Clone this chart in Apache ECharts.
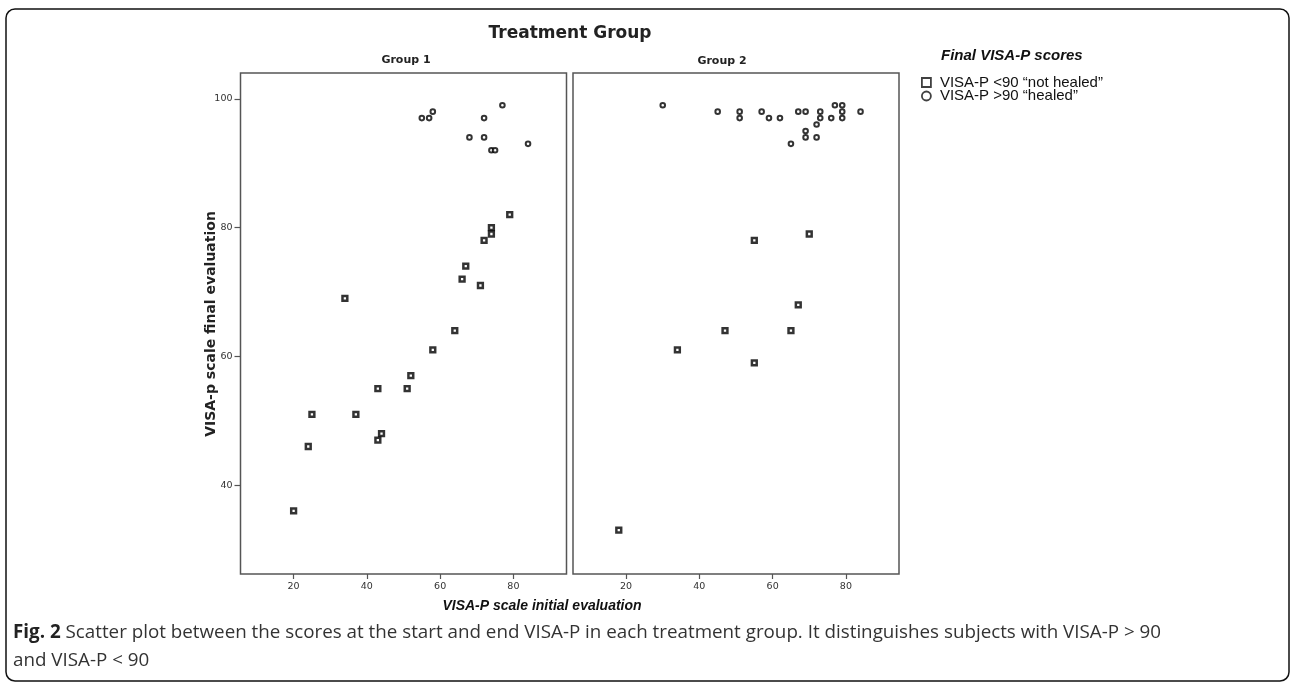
<!DOCTYPE html>
<html>
<head>
<meta charset="utf-8">
<script src="https://cdn.jsdelivr.net/npm/echarts@6/dist/echarts.min.js"></script>
<style>
  html, body { margin: 0; padding: 0; background: #fff; }
  #chart { width: 1292px; height: 683px; }
</style>
</head>
<body>
<div id="chart"></div>
<script>
// ---- Data (initial VISA-P, final VISA-P) ----
const group1NotHealed = [
  [79, 82], [74, 80], [74, 79], [72, 78], [67, 74], [66, 72], [71, 71],
  [34, 69], [64, 64], [58, 61], [52, 57], [43, 55], [51, 55], [25, 51],
  [37, 51], [44, 48], [43, 47], [24, 46], [20, 36]
];
const group1Healed = [
  [55, 97], [57, 97], [58, 98], [77, 99], [72, 97], [68, 94], [72, 94],
  [74, 92], [75, 92], [84, 93]
];
const group2NotHealed = [
  [55, 78], [70, 79], [67, 68], [47, 64], [65, 64], [34, 61], [55, 59], [18, 33]
];
const group2Healed = [
  [30, 99], [45, 98], [51, 98], [51, 97], [57, 98], [59, 97], [62, 97],
  [67, 98], [69, 98], [73, 98], [73, 97], [76, 97], [77, 99], [79, 99],
  [79, 98], [79, 97], [84, 98], [72, 96], [69, 95], [69, 94], [72, 94], [65, 93]
];
const xTickValues = [20, 40, 60, 80];
const yTickValues = [40, 60, 80, 100];
const groupLabels = ['Group 1', 'Group 2'];
const seriesNames = ['VISA-P <90 \u201Cnot healed\u201D', 'VISA-P >90 \u201Chealed\u201D'];

const chart = echarts.init(document.getElementById('chart'), null, { renderer: 'canvas' });

const tickFont = { fontFamily: 'DejaVu Sans', fontSize: 9.5, color: '#333' };
function xAxisFor(gi) {
  return {
    type: 'value', gridIndex: gi, min: 5.5, max: 94.5,
    axisLine: { show: false },
    splitLine: { show: false },
    axisTick: { show: true, length: 5, inside: false, customValues: xTickValues, lineStyle: { color: '#555', width: 1.2 } },
    axisLabel: Object.assign({ margin: 8, customValues: xTickValues }, tickFont)
  };
}
function yAxisFor(gi, showTicks) {
  return {
    type: 'value', gridIndex: gi, min: 26.2, max: 104,
    axisLine: { show: false },
    splitLine: { show: false },
    axisTick: { show: showTicks, length: 6, customValues: yTickValues, lineStyle: { color: '#555', width: 1.2 } },
    axisLabel: Object.assign({ show: showTicks, margin: 8, customValues: yTickValues }, tickFont)
  };
}
const squareStyle = { color: '#fff', borderColor: '#000', borderWidth: 2.5 };
const circleStyle = { color: '#fff', borderColor: '#000', borderWidth: 2 };
function sc(name, data, gi, symbol) {
  return {
    type: 'scatter', name: name, xAxisIndex: gi, yAxisIndex: gi, data: data,
    symbol: symbol, symbolSize: symbol === 'rect' ? 4.8 : 4.6,
    itemStyle: symbol === 'rect' ? squareStyle : circleStyle,
    emphasis: { disabled: true }, silent: true
  };
}

const legendText = { fontFamily: 'Liberation Sans', fontSize: 15, color: '#111', padding: [0, 0, 0, 4] };
const option = {
  animation: false,
  backgroundColor: '#fff',
  grid: [
    { left: 240.5, top: 73, width: 326, height: 501, show: true, borderColor: '#555', borderWidth: 1.5, backgroundColor: 'transparent' },
    { left: 573, top: 73, width: 326, height: 501, show: true, borderColor: '#555', borderWidth: 1.5, backgroundColor: 'transparent' }
  ],
  xAxis: [xAxisFor(0), xAxisFor(1)],
  yAxis: [yAxisFor(0, true), yAxisFor(1, false)],
  legend: [
    {
      data: [{ name: seriesNames[0], icon: 'rect', itemStyle: { color: '#fff', borderColor: '#111', borderWidth: 1.8 } }],
      left: 921, top: 75, padding: 0, itemWidth: 9, itemHeight: 9, selectedMode: false,
      textStyle: legendText
    },
    {
      data: [{ name: seriesNames[1], icon: 'circle', itemStyle: { color: '#fff', borderColor: '#111', borderWidth: 1.8 } }],
      left: 921, top: 88.5, padding: 0, itemWidth: 9, itemHeight: 9, selectedMode: false,
      textStyle: legendText
    }
  ],
  series: [
    sc(seriesNames[0], group1NotHealed, 0, 'rect'),
    sc(seriesNames[1], group1Healed, 0, 'circle'),
    sc(seriesNames[0], group2NotHealed, 1, 'rect'),
    sc(seriesNames[1], group2Healed, 1, 'circle')
  ],
  graphic: [
    { type: 'rect', shape: { x: 6, y: 9, width: 1283, height: 672, r: 9 }, style: { fill: 'none', stroke: '#111', lineWidth: 1.5 }, silent: true },
    { type: 'text', x: 570, y: 34, style: { text: 'Treatment Group', fontFamily: 'DejaVu Sans', fontWeight: 'bold', fontSize: 17, fill: '#222', align: 'center', verticalAlign: 'middle' } },
    { type: 'text', x: 406, y: 60, style: { text: groupLabels[0], fontFamily: 'DejaVu Sans', fontWeight: 'bold', fontSize: 11, fill: '#222', align: 'center', verticalAlign: 'middle' } },
    { type: 'text', x: 722, y: 61, style: { text: groupLabels[1], fontFamily: 'DejaVu Sans', fontWeight: 'bold', fontSize: 11, fill: '#222', align: 'center', verticalAlign: 'middle' } },
    { type: 'text', x: 211, y: 324, rotation: Math.PI / 2, style: { text: 'VISA-p scale final evaluation', fontFamily: 'DejaVu Sans', fontWeight: 'bold', fontSize: 14, fill: '#222', align: 'center', verticalAlign: 'middle' } },
    { type: 'text', x: 542, y: 606, style: { text: 'VISA-P scale initial evaluation', fontFamily: 'Liberation Sans', fontWeight: 'bold', fontStyle: 'italic', fontSize: 14, fill: '#111', align: 'center', verticalAlign: 'middle' } },
    { type: 'text', x: 941, y: 56, style: { text: 'Final VISA-P scores', fontFamily: 'Liberation Sans', fontWeight: 'bold', fontStyle: 'italic', fontSize: 15, fill: '#111', align: 'left', verticalAlign: 'middle' } },
    { type: 'text', x: 13, y: 633, style: {
        text: '{b|Fig. 2} Scatter plot between the scores at the start and end VISA-P in each treatment group. It distinguishes subjects with VISA-P > 90',
        fontFamily: 'Open Sans', fontSize: 18.8, fill: '#333', align: 'left', verticalAlign: 'middle',
        rich: { b: { fontFamily: 'Open Sans', fontWeight: 'bold', fontSize: 18.8, fill: '#222' } }
      } },
    { type: 'text', x: 13, y: 661, style: { text: 'and VISA-P < 90', fontFamily: 'Open Sans', fontSize: 18.8, fill: '#333', align: 'left', verticalAlign: 'middle' } }
  ]
};
chart.setOption(option);
</script>
</body>
</html>
